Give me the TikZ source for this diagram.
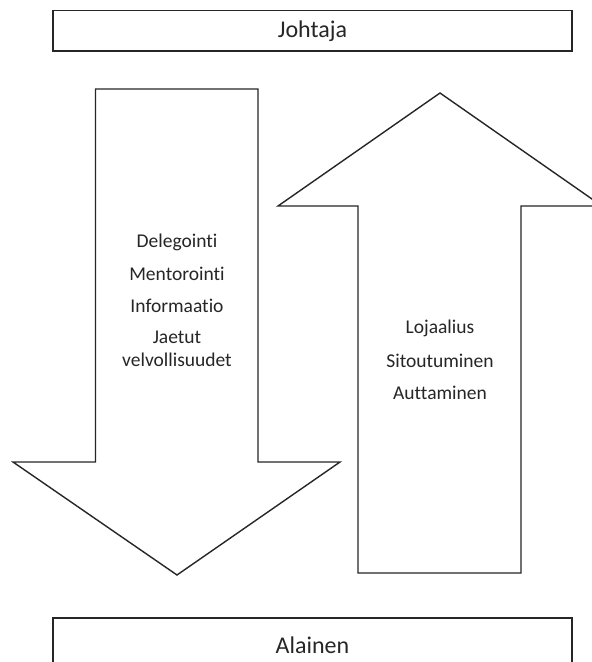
\documentclass[tikz,border=0pt]{standalone}
\usepackage{fontspec}
\setmainfont{Carlito}[Ligatures={NoCommon}]
\begin{document}
\begin{tikzpicture}[x=1pt,y=-1pt,
  outline/.style={draw=black!85,line width=1.6pt,line join=miter},
  arrowbody/.style={draw=black!85,line width=1.4pt,line join=miter,fill=white},
  boxlabel/.style={text=black!85,font=\fontsize{24}{28}\selectfont,inner sep=0pt},
  itemlabel/.style={text=black!85,font=\fontsize{19.5}{23}\selectfont,inner sep=0pt,align=center}]
  \useasboundingbox (0,0) rectangle (592,662);
  \clip (0,0) rectangle (592,662);
  % top and bottom boxes
  \node[outline,minimum width=519pt,minimum height=40.5pt,inner sep=0pt] (johtaja) at (312.5,30.75) {};
  \node[boxlabel] (johtajatext) at (johtaja.center) {Johtaja};
  \draw[outline] (53,690) -- (53,618) -- (572,618) -- (572,690);
  \node[boxlabel] (alainen) at (312.5,645) {Alainen};
  % downward arrow
  \draw[arrowbody] (95.5,89) -- (258,89) -- (258,462) -- (340,462) -- (177,575)
    -- (13,462) -- (95.5,462) -- cycle;
  % upward arrow
  \draw[arrowbody] (440,93) -- (602,206) -- (521,206) -- (521,573) -- (358,573)
    -- (358,206) -- (278,206) -- cycle;
  % labels of the downward arrow
  \node[itemlabel] (d1) at (177,242) {Delegointi};
  \node[itemlabel] (d2) at (177,274) {Mentorointi};
  \node[itemlabel] (d3) at (177,306) {Informaatio};
  \node[itemlabel] (d4) at (177,349) {Jaetut\\velvollisuudet};
  % labels of the upward arrow
  \node[itemlabel] (u1) at (440,328) {Lojaalius};
  \node[itemlabel] (u2) at (440,361) {Sitoutuminen};
  \node[itemlabel] (u3) at (440,393) {Auttaminen};
\end{tikzpicture}
\end{document}
